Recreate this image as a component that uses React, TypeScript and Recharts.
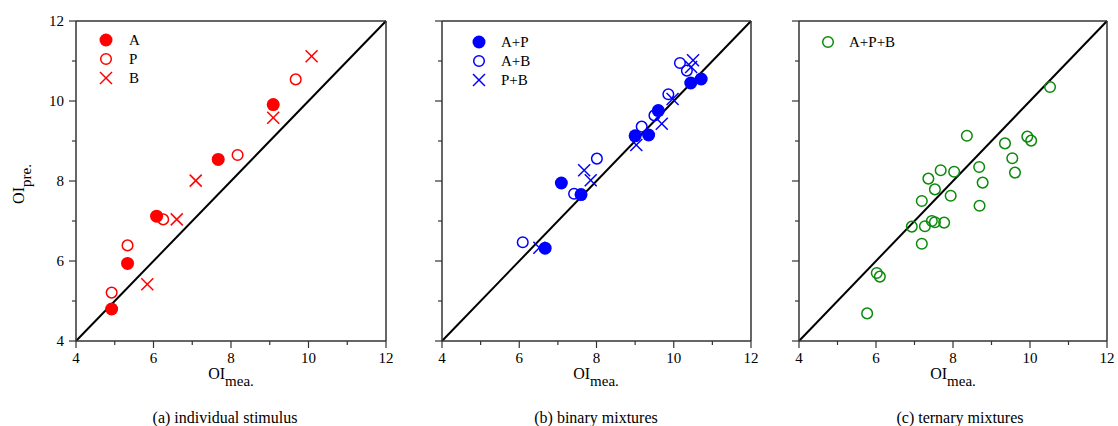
import React from "react";
import { ScatterChart, Scatter, XAxis, YAxis, ReferenceLine } from "recharts";

// ---------- data ----------
const ticks = [4, 5, 6, 7, 8, 9, 10, 11, 12];

const dataA = [
  { x: 4.92, y: 4.8 }, { x: 5.33, y: 5.94 }, { x: 6.08, y: 7.12 }, { x: 7.67, y: 8.54 }, { x: 9.09, y: 9.91 },
];
const dataP = [
  { x: 4.92, y: 5.21 }, { x: 5.33, y: 6.39 }, { x: 6.25, y: 7.04 }, { x: 8.17, y: 8.65 }, { x: 9.67, y: 10.54 },
];
const dataB = [
  { x: 5.84, y: 5.42 }, { x: 6.6, y: 7.04 }, { x: 7.09, y: 8.01 }, { x: 9.09, y: 9.58 }, { x: 10.08, y: 11.12 },
];

const dataAP = [
  { x: 6.67, y: 6.32 }, { x: 7.09, y: 7.95 }, { x: 7.6, y: 7.66 }, { x: 9.0, y: 9.13 },
  { x: 9.35, y: 9.15 }, { x: 9.6, y: 9.76 }, { x: 10.44, y: 10.45 }, { x: 10.71, y: 10.55 },
];
const dataAB = [
  { x: 6.09, y: 6.47 }, { x: 7.42, y: 7.68 }, { x: 8.01, y: 8.56 }, { x: 9.17, y: 9.36 },
  { x: 9.5, y: 9.64 }, { x: 9.86, y: 10.17 }, { x: 10.16, y: 10.95 }, { x: 10.34, y: 10.76 },
];
const dataPB = [
  { x: 6.52, y: 6.33 }, { x: 7.68, y: 8.27 }, { x: 7.85, y: 8.02 }, { x: 9.03, y: 8.9 },
  { x: 9.69, y: 9.43 }, { x: 9.97, y: 10.05 }, { x: 10.45, y: 10.85 }, { x: 10.5, y: 11.02 },
];

const dataAPB = [
  { x: 10.52, y: 10.35 }, { x: 8.36, y: 9.13 }, { x: 9.35, y: 8.94 }, { x: 9.93, y: 9.11 },
  { x: 10.03, y: 9.01 }, { x: 9.54, y: 8.57 }, { x: 8.68, y: 8.35 }, { x: 9.61, y: 8.21 },
  { x: 7.68, y: 8.27 }, { x: 8.03, y: 8.23 }, { x: 7.36, y: 8.06 }, { x: 8.77, y: 7.96 },
  { x: 7.53, y: 7.79 }, { x: 7.94, y: 7.63 }, { x: 7.19, y: 7.5 }, { x: 8.69, y: 7.38 },
  { x: 7.45, y: 7.0 }, { x: 7.53, y: 6.97 }, { x: 7.77, y: 6.96 }, { x: 6.93, y: 6.86 },
  { x: 7.27, y: 6.87 }, { x: 7.19, y: 6.43 }, { x: 6.02, y: 5.7 }, { x: 6.1, y: 5.61 },
  { x: 5.77, y: 4.69 },
];

const captions = ["(a) individual stimulus", "(b) binary mixtures", "(c) ternary mixtures"];

// ---------- styles ----------
const FONT = "Liberation Serif, Times New Roman, DejaVu Serif, serif";
const TXT = { fontFamily: FONT };
const AXIS = "#333";
const RED = "#ff0000";
const BLUE = "#0000ff";
const GREEN = "#0a8a0a";

type MarkerKind = "filled" | "open" | "cross";

const marker = (kind: MarkerKind, color: string, cx: number, cy: number) => {
  if (kind === "filled") return <circle cx={cx} cy={cy} r={6.5} fill={color} />;
  if (kind === "open") return <circle cx={cx} cy={cy} r={5.3} fill="none" stroke={color} strokeWidth={1.5} />;
  const s = 6;
  return (
    <g stroke={color} strokeWidth={1.5}>
      <line x1={cx - s} y1={cy - s} x2={cx + s} y2={cy + s} />
      <line x1={cx - s} y1={cy + s} x2={cx + s} y2={cy - s} />
    </g>
  );
};

const shapeOf = (kind: MarkerKind, color: string) => (p: any) => marker(kind, color, p.cx, p.cy);

const XTick = (p: any) => {
  const v = p.payload.value;
  const major = v % 2 === 0;
  return (
    <g>
      <line x1={p.x} x2={p.x} y1={p.y} y2={p.y + (major ? 7 : 4)} stroke={AXIS} strokeWidth={1.2} />
      {major && (
        <text x={p.x} y={p.y + 22} textAnchor="middle" fontSize={15} style={TXT} fill="#000">
          {v}
        </text>
      )}
    </g>
  );
};

const makeYTick = (showLabel: boolean) => (p: any) => {
  const v = p.payload.value;
  const major = v % 2 === 0;
  return (
    <g>
      <line x1={p.x} x2={p.x - (major ? 7 : 4)} y1={p.y} y2={p.y} stroke={AXIS} strokeWidth={1.2} />
      {major && showLabel && (
        <text x={p.x - 12} y={p.y + 5} textAnchor="end" fontSize={15} style={TXT} fill="#000">
          {v}
        </text>
      )}
    </g>
  );
};

type Series = { name: string; data: { x: number; y: number }[]; kind: MarkerKind; color: string };

const Panel = ({
  left, width, mLeft, mRight, series, yLabels,
}: {
  left: number; width: number; mLeft: number; mRight: number; series: Series[]; yLabels: boolean;
}) => (
  <div style={{ position: "absolute", left, top: 0 }}>
    <ScatterChart width={width} height={426} margin={{ top: 20, right: mRight - 1, bottom: 84, left: mLeft - 1 }}>
      <XAxis
        xAxisId="b" type="number" dataKey="x" domain={[4, 12]} ticks={ticks} height={1}
        tickSize={0} tickMargin={0} tick={XTick} axisLine={{ stroke: AXIS, strokeWidth: 1.5 }}
        allowDataOverflow
      />
      <XAxis
        xAxisId="t" orientation="top" type="number" dataKey="x" domain={[4, 12]} height={1}
        tick={false} tickLine={false} axisLine={{ stroke: AXIS, strokeWidth: 1.5 }}
      />
      <YAxis
        yAxisId="l" type="number" dataKey="y" domain={[4, 12]} ticks={ticks} width={1}
        tickSize={0} tickMargin={0} tick={makeYTick(yLabels)} axisLine={{ stroke: AXIS, strokeWidth: 1.5 }}
        allowDataOverflow
      />
      <YAxis
        yAxisId="r" orientation="right" type="number" dataKey="y" domain={[4, 12]} width={1}
        tick={false} tickLine={false} axisLine={{ stroke: AXIS, strokeWidth: 1.5 }}
      />
      <ReferenceLine
        xAxisId="b" yAxisId="l"
        segment={[{ x: 4, y: 4 }, { x: 12, y: 12 }]}
        stroke="#000" strokeWidth={2}
      />
      {series.map((s) => (
        <Scatter
          key={s.name} name={s.name} data={s.data} xAxisId="b" yAxisId="l"
          shape={shapeOf(s.kind, s.color)} isAnimationActive={false}
        />
      ))}
    </ScatterChart>
  </div>
);

const seriesA: Series[] = [
  { name: "A", data: dataA, kind: "filled", color: RED },
  { name: "P", data: dataP, kind: "open", color: RED },
  { name: "B", data: dataB, kind: "cross", color: RED },
];
const seriesB: Series[] = [
  { name: "A+P", data: dataAP, kind: "filled", color: BLUE },
  { name: "A+B", data: dataAB, kind: "open", color: BLUE },
  { name: "P+B", data: dataPB, kind: "cross", color: BLUE },
];
const seriesC: Series[] = [{ name: "A+P+B", data: dataAPB, kind: "open", color: GREEN }];

const LegendBlock = ({ x, tx, y0, gap, series }: { x: number; tx: number; y0: number; gap: number; series: Series[] }) => (
  <g>
    {series.map((s, i) => (
      <g key={s.name}>
        {marker(s.kind, s.color, x, y0 + i * gap)}
        <text x={tx} y={y0 + i * gap + 5} fontSize={15} style={TXT} fill="#000">
          {s.name}
        </text>
      </g>
    ))}
  </g>
);

const XLabel = ({ cx }: { cx: number }) => (
  <text x={cx} y={379} textAnchor="middle" fontSize={16} style={TXT} fill="#000">
    OI<tspan fontSize={15} dy={7}>mea.</tspan>
  </text>
);

export default function App() {
  return (
    <div style={{ position: "absolute", left: 0, top: 0, width: 1118, height: 426, background: "#fff", overflow: "hidden", fontFamily: FONT }}>
      <Panel left={0} width={400} mLeft={76} mRight={14} series={seriesA} yLabels />
      <Panel left={400} width={360} mLeft={42} mRight={9} series={seriesB} yLabels={false} />
      <Panel left={760} width={358} mLeft={39} mRight={11} series={seriesC} yLabels={false} />
      <svg width={1118} height={426} style={{ position: "absolute", left: 0, top: 0, pointerEvents: "none" }}>
        <LegendBlock x={106} tx={129} y0={40} gap={19} series={seriesA} />
        <LegendBlock x={479} tx={501} y0={42} gap={19} series={seriesB} />
        <LegendBlock x={828} tx={849} y0={42} gap={19} series={seriesC} />
        <XLabel cx={231} />
        <XLabel cx={596} />
        <XLabel cx={953} />
        <text transform="translate(24,184) rotate(-90)" textAnchor="middle" fontSize={16} style={TXT} fill="#000">
          OI<tspan fontSize={15} dy={7}>pre.</tspan>
        </text>
        <text x={225} y={423} textAnchor="middle" fontSize={16} style={TXT} fill="#000">{captions[0]}</text>
        <text x={596} y={423} textAnchor="middle" fontSize={16} style={TXT} fill="#000">{captions[1]}</text>
        <text x={960} y={423} textAnchor="middle" fontSize={16} style={TXT} fill="#000">{captions[2]}</text>
      </svg>
    </div>
  );
}
